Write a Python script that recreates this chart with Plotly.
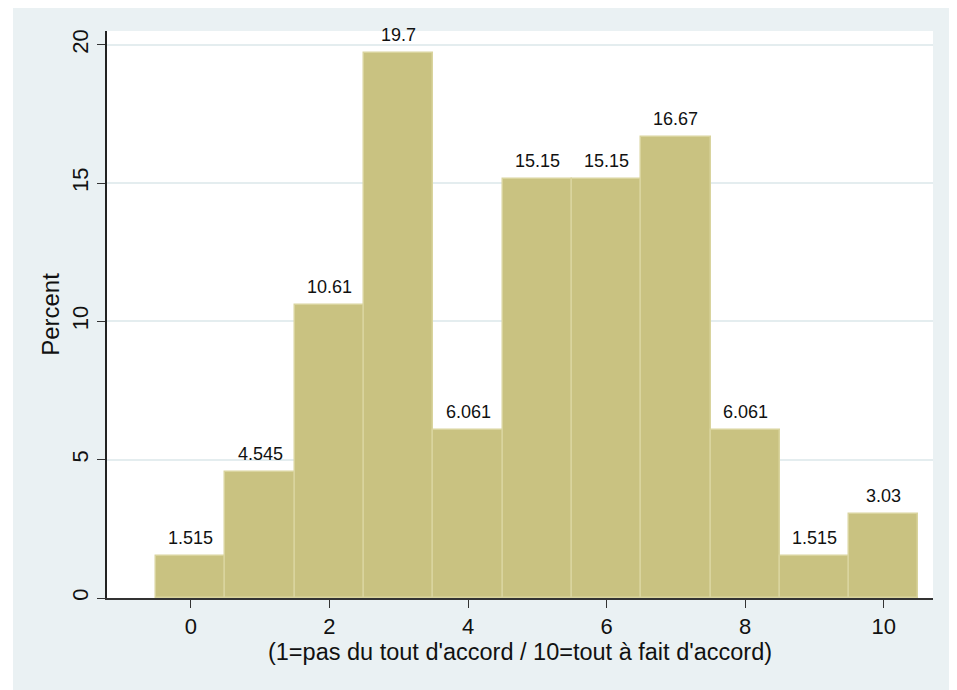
import plotly.graph_objects as go

categories = [0, 1, 2, 3, 4, 5, 6, 7, 8, 9, 10]
percent = [1.515, 4.545, 10.61, 19.7, 6.061, 15.15, 15.15, 16.67, 6.061, 1.515, 3.03]
bar_labels = ["1.515", "4.545", "10.61", "19.7", "6.061", "15.15", "15.15", "16.67", "6.061", "1.515", "3.03"]
y_ticks = [0, 5, 10, 15, 20]
x_ticks = [0, 2, 4, 6, 8, 10]

FONT = "Liberation Sans, Arial, sans-serif"
BG = "#EAF1F3"

fig = go.Figure()
fig.add_trace(go.Bar(
    x=categories, y=percent, width=1,
    marker=dict(color="#C9C281", line=dict(color="#D9D49E", width=1.5)),
    hoverinfo="x+y",
))

for c, v, t in zip(categories, percent, bar_labels):
    fig.add_annotation(x=c, y=v, text=t, showarrow=False, yanchor="bottom",
                       yshift=6, font=dict(family=FONT, size=18, color="#111"))

# the page body adds an 8px margin, so the figure is laid out 8px smaller
W, H = 949, 682
L, R, T, B = 99, 24, 23, 92
pw, ph = W - L - R, H - T - B

def px2paper_x(px):
    return (px - L) / pw

def px2paper_y(py):
    return (H - B - py) / ph

# white strip at the left of the outer graph region
fig.add_shape(type="rect", xref="paper", yref="paper",
              x0=px2paper_x(0), x1=px2paper_x(5), y0=px2paper_y(H), y1=px2paper_y(0),
              fillcolor="white", line=dict(width=0), layer="below")

fig.update_layout(
    width=W, height=H,
    margin=dict(l=L, r=R, t=T, b=B),
    paper_bgcolor=BG, plot_bgcolor="white",
    bargap=0, showlegend=False,
    font=dict(family=FONT, color="#111"),
    xaxis=dict(range=[-1.21, 10.71], tickvals=x_ticks, ticks="outside", ticklen=8,
               tickcolor="#333", showgrid=False, zeroline=False,
               showline=True, linecolor="#333", linewidth=1.5,
               tickfont=dict(size=22), title=dict(text="(1=pas du tout d'accord / 10=tout à fait d'accord)",
                                                  font=dict(size=23.5), standoff=0)),
    yaxis=dict(range=[0, 20.5], tickvals=y_ticks, ticks="outside", ticklen=8,
               tickcolor="#333", tickangle=-90, showgrid=True, gridcolor="#E4EDEF",
               gridwidth=1.5, zeroline=False, showline=True, linecolor="#222", linewidth=1.5,
               tickfont=dict(size=22), title=dict(text="Percent", font=dict(size=24), standoff=2)),
)

fig.write_html("out.html")
